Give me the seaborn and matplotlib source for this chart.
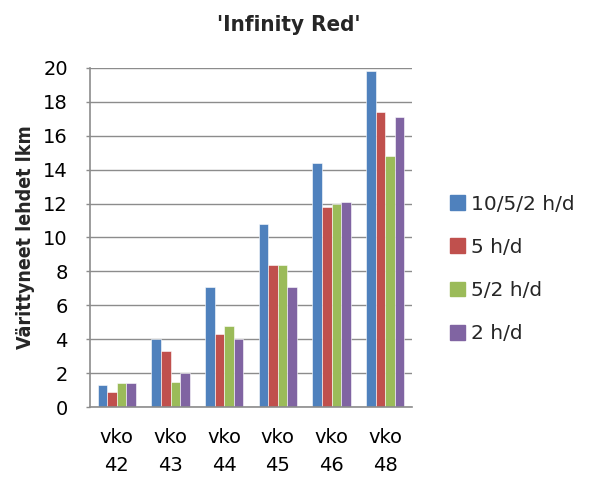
import matplotlib
matplotlib.use("Agg")
import matplotlib.pyplot as plt
import seaborn as sns
import pandas as pd

weeks = ["vko\n42", "vko\n43", "vko\n44", "vko\n45", "vko\n46", "vko\n48"]
series_names = ["10/5/2 h/d", "5 h/d", "5/2 h/d", "2 h/d"]
s_10_5_2 = [1.3, 4.0, 7.1, 10.8, 14.4, 19.8]
s_5 = [0.9, 3.3, 4.3, 8.4, 11.8, 17.4]
s_5_2 = [1.4, 1.5, 4.8, 8.4, 12.0, 14.8]
s_2 = [1.4, 2.0, 4.0, 7.1, 12.1, 17.1]
colors = ["#4F81BD", "#C0504D", "#9BBB59", "#8064A2"]

rows = []
for name, vals in zip(series_names, [s_10_5_2, s_5, s_5_2, s_2]):
    for w, v in zip(weeks, vals):
        rows.append({"week": w, "series": name, "value": v})
df = pd.DataFrame(rows)

sns.set_theme(style="white")
plt.rcParams["font.family"] = ["DejaVu Sans"]

fig = plt.figure(figsize=(5.89, 4.82), dpi=100)
ax = fig.add_axes([0.1528, 0.1556, 0.5467, 0.7034])

sns.barplot(data=df, x="week", y="value", hue="series", order=weeks,
            hue_order=series_names, palette=colors, width=0.72, gap=0,
            saturation=1, ax=ax, legend=False, edgecolor="white", linewidth=0.4)

grey = "#8C8C8C"
ax.set_ylim(0, 20)
ax.set_yticks(range(0, 21, 2))
ax.set_xlim(-0.5, 5.5)
ax.yaxis.grid(True, color=grey, linewidth=1)
ax.set_axisbelow(True)
for side in ["top", "right"]:
    ax.spines[side].set_visible(False)
for side in ["left", "bottom"]:
    ax.spines[side].set_color(grey)
    ax.spines[side].set_linewidth(1.2)
ax.tick_params(axis="y", labelsize=14, labelcolor="black", color=grey,
               length=3, width=1, pad=13, left=True)
ax.tick_params(axis="x", labelsize=14, labelcolor="black", length=0, pad=15)
for lbl in ax.get_xticklabels():
    lbl.set_linespacing(1.62)
ax.set_xlabel("")
ax.set_ylabel("Värittyneet lehdet lkm", fontsize=14, fontweight="bold",
              fontstretch="condensed", labelpad=6)

fig.text(0.49, 0.948, "'Infinity Red'", ha="center", va="center",
         fontsize=16, fontweight="bold", fontstretch="condensed")

handles = [plt.Rectangle((0, 0), 1, 1, color=c) for c in colors]
fig.legend(handles, series_names, loc="center left", bbox_to_anchor=(0.764, 0.442),
           frameon=False, fontsize=14.5, handlelength=0.75, handleheight=0.75,
           handletextpad=0.3, labelspacing=1.2, borderpad=0, borderaxespad=0)

fig.savefig("out.png", dpi=100)
